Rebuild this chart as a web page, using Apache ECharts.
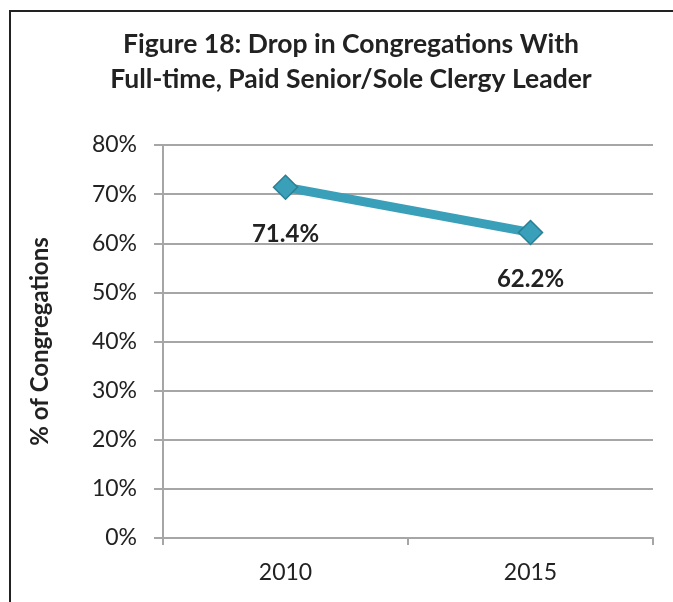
<!DOCTYPE html>
<html>
<head>
<meta charset="utf-8">
<script src="https://cdn.jsdelivr.net/npm/echarts@6/dist/echarts.min.js"></script>
<style>
  html, body { margin: 0; padding: 0; background: #fff; }
  #chart { width: 673px; height: 602px; }
</style>
</head>
<body>
<div id="chart"></div>
<script>
const years = ['2010', '2015']
const shares = [71.4, 62.2] // % of congregations
const yTicks = [0, 10, 20, 30, 40, 50, 60, 70, 80]

const font = 'Lato, "Open Sans", sans-serif'
const chart = echarts.init(document.getElementById('chart'))

chart.setOption({
  backgroundColor: '#fff',
  animation: false,
  title: {
    text: 'Figure 18: Drop in Congregations With\nFull-time, Paid Senior/Sole Clergy Leader',
    left: 351, // title sits a bit right of centre
    textAlign: 'center',
    top: 27,
    padding: 0,
    textStyle: { fontFamily: font, fontWeight: 'bold', fontSize: 26.5, lineHeight: 35, color: '#222' }
  },
  graphic: [{
    // frame around the figure (left + top edges only are visible)
    type: 'polyline',
    shape: { points: [[10, 602], [10, 11], [673, 11]] },
    style: { stroke: '#222', lineWidth: 2, fill: null }
  }],
  grid: { left: 163, right: 20, top: 145, bottom: 64 },
  xAxis: {
    type: 'category',
    data: years,
    boundaryGap: true,
    axisLine: { lineStyle: { color: '#a6a6a6', width: 2 } },
    axisTick: { show: true, length: 7, lineStyle: { color: '#a6a6a6', width: 2 } },
    axisLabel: { fontFamily: font, fontSize: 23, color: '#222', margin: 23 }
  },
  yAxis: {
    type: 'value',
    min: yTicks[0],
    max: yTicks[yTicks.length - 1],
    interval: 10,
    name: '% of Congregations',
    nameLocation: 'middle',
    nameGap: 111,
    nameTextStyle: { fontFamily: font, fontWeight: 'bold', fontSize: 24, color: '#222' },
    axisLine: { show: true, lineStyle: { color: '#a6a6a6', width: 2 } },
    axisTick: { show: true, length: 9, lineStyle: { color: '#a6a6a6', width: 2 } },
    splitLine: { lineStyle: { color: '#a6a6a6', width: 2 } },
    axisLabel: { fontFamily: font, fontSize: 23, color: '#222', margin: 26, formatter: '{value}%' }
  },
  series: [{
    type: 'line',
    data: shares,
    symbol: 'diamond',
    symbolSize: 24,
    lineStyle: { color: '#3a9fb8', width: 9 },
    itemStyle: { color: '#3a9fb8', borderColor: '#2b7f94', borderWidth: 1.5 },
    label: {
      show: true,
      position: 'bottom',
      distance: 22,
      formatter: p => p.value.toFixed(1) + '%',
      fontFamily: font, fontWeight: 'bold', fontSize: 24, color: '#222'
    }
  }]
})
</script>
</body>
</html>
